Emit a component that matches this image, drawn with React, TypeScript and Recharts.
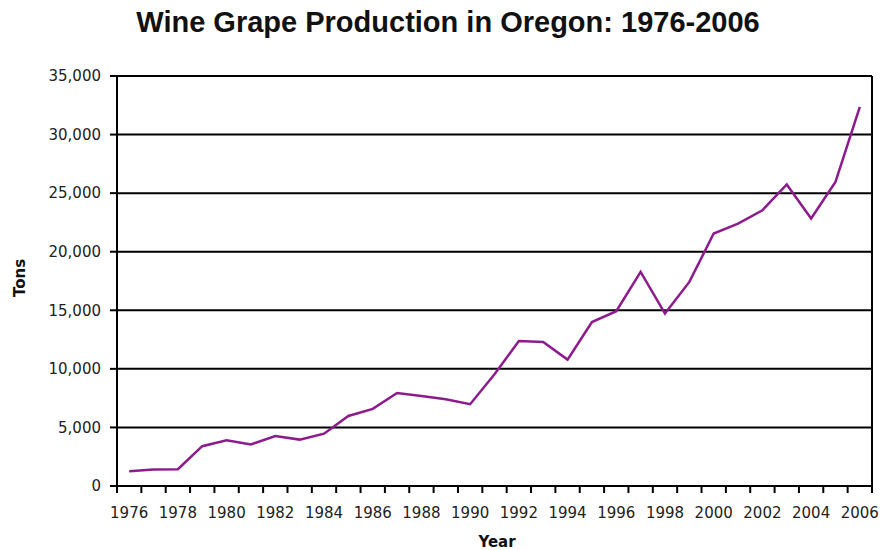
import { LineChart, Line, XAxis, YAxis, CartesianGrid, ReferenceLine } from "recharts";

const years = [
  1976, 1977, 1978, 1979, 1980, 1981, 1982, 1983, 1984, 1985, 1986,
  1987, 1988, 1989, 1990, 1991, 1992, 1993, 1994, 1995, 1996, 1997,
  1998, 1999, 2000, 2001, 2002, 2003, 2004, 2005, 2006,
];

const tons = [
  1250, 1400, 1430, 3400, 3900, 3550, 4270, 3960, 4470, 5980, 6580,
  7940, 7690, 7400, 6980, 9540, 12380, 12300, 10790, 14000, 14920, 18280,
  14720, 17420, 21550, 22400, 23540, 25740, 22830, 25960, 32370,
];

const labelYears = [
  1976, 1978, 1980, 1982, 1984, 1986, 1988, 1990, 1992, 1994, 1996,
  1998, 2000, 2002, 2004, 2006,
];

const yTicks = [0, 5000, 10000, 15000, 20000, 25000, 30000, 35000];

const data = years.map((year, i) => ({ year, tons: tons[i] }));

// tick marks sit between categories, labels on every other year
const boundaries = years.map((y) => y - 0.5).concat(years[years.length - 1] + 0.5);
const xTicks = [...boundaries, ...labelYears];

const font = "'DejaVu Sans', Verdana, sans-serif";

function XTick(props: any) {
  const { x, y, payload } = props;
  const v = payload.value;
  if (!Number.isInteger(v)) {
    return <line x1={x} y1={y} x2={x} y2={y + 7} stroke="#000" strokeWidth={2} />;
  }
  return (
    <text x={x} y={y + 32} textAnchor="middle" fill="#222" fontSize={15} fontFamily={font}>
      {v}
    </text>
  );
}

export default function App() {
  return (
    <div style={{ position: "relative", width: 872, height: 542, fontFamily: font }}>
      <div
        style={{
          position: "absolute",
          left: 0,
          top: 0,
          width: 880,
          textAlign: "center",
          fontFamily: "'Liberation Sans', Arial, sans-serif",
          fontWeight: "bold",
          fontSize: 29,
          lineHeight: "29px",
          color: "#111",
        }}
      >
        Wine Grape Production in Oregon: 1976-2006
      </div>
      <LineChart
        width={872}
        height={542}
        data={data}
        margin={{ top: 68, right: 8, left: 49, bottom: 0 }}
      >
        <CartesianGrid vertical={false} stroke="#000" strokeWidth={2} />
        <XAxis
          dataKey="year"
          type="number"
          domain={[1975.5, 2006.5]}
          ticks={xTicks}
          interval={0}
          tickSize={0}
          tickMargin={0}
          tickLine={false}
          tick={XTick}
          height={64}
          axisLine={{ stroke: "#000", strokeWidth: 2 }}
        />
        <YAxis
          domain={[0, 35000]}
          ticks={yTicks}
          width={60}
          tickSize={7}
          tickMargin={9}
          tickLine={{ stroke: "#000", strokeWidth: 2 }}
          axisLine={{ stroke: "#000", strokeWidth: 2 }}
          tick={{ fill: "#222", fontSize: 15, fontFamily: font }}
          tickFormatter={(v: number) => v.toLocaleString("en-US")}
        />
        <ReferenceLine x={2006.5} stroke="#000" strokeWidth={2} />
        <Line
          type="linear"
          dataKey="tons"
          stroke="#8E1B8E"
          strokeWidth={2.5}
          dot={false}
          isAnimationActive={false}
        />
      </LineChart>
      <div
        style={{
          position: "absolute",
          left: 489,
          top: 527,
          transform: "translateX(-50%)",
          fontWeight: "bold",
          fontSize: 15,
          lineHeight: "15px",
          color: "#111",
        }}
      >
        Year
      </div>
      <div
        style={{
          position: "absolute",
          left: 12,
          top: 270,
          transform: "translate(-50%, -50%) rotate(-90deg)",
          fontWeight: "bold",
          fontSize: 15,
          lineHeight: "15px",
          color: "#111",
        }}
      >
        Tons
      </div>
    </div>
  );
}
